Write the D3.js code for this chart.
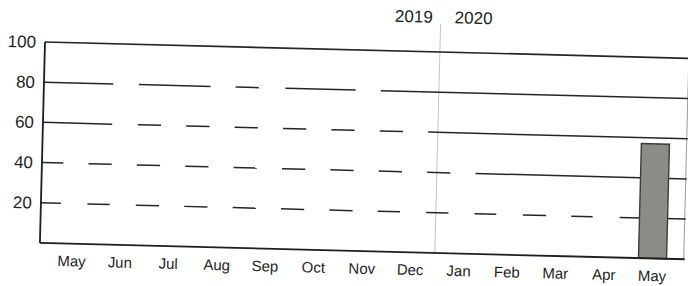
<!DOCTYPE html>
<html>
<head>
<meta charset="utf-8">
<script src="https://cdn.jsdelivr.net/npm/d3@7/dist/d3.min.js"></script>
<style>
  html, body { margin: 0; padding: 0; background: #fff; }
  svg { display: block; }
  text { font-family: "Liberation Sans", Arial, Helvetica, sans-serif; fill: #1e1e1e; }
</style>
</head>
<body>
<svg id="chart" width="688" height="286"></svg>
<script>
// ---- data ----
const months = ["May","Jun","Jul","Aug","Sep","Oct","Nov","Dec","Jan","Feb","Mar","Apr","May"];
const barValues = [null,null,null,null,null,null,null,null,null,null,null,null,57];
const yTicks = [20, 40, 60, 80, 100];
const yearLabels = ["2019", "2020"];
const yearBreak = 7.5; // between Dec and Jan (month index units)
// gridline segments, in month-index units along x
const grid100 = [[-0.7, 12.7]];
const grid80 = [[-0.7,0.77],[1.3,2.78],[3.3,3.78],[4.33,5.78],[6.3,12.7]];
const grid60 = [[-0.7,0.77],[1.3,1.78],[2.3,2.78],[3.3,3.78],[4.3,4.78],[5.3,5.78],[6.3,6.78],[7.3,12.7]];
const grid40 = [[-0.7,-0.22],[0.3,0.78],[1.3,1.78],[2.3,2.78],[3.3,3.78],[4.3,4.78],[5.3,5.78],[6.3,6.78],[7.3,7.78],[8.3,12.7]];
const grid20 = [[-0.7,-0.25],[0.3,0.76],[1.3,1.78],[2.3,2.78],[3.3,3.78],[4.3,4.78],[5.3,5.78],[6.3,6.76],[7.3,7.76],[8.3,8.75],[9.3,9.78],[10.3,10.74],[11.3,12.7]];
const gridLevels = [100, 80, 60, 40, 20];
const gridSegments = [grid100, grid80, grid60, grid40, grid20];

// ---- layout ----
const pLeft = 45, pRight = 688, pTop = 42, pBottom = 243;
const svg = d3.select("#chart");
const g = svg.append("g").attr("transform", `rotate(1.45, ${pLeft}, ${pTop})`);

const xBand = d3.scaleBand().domain(d3.range(months.length))
  .range([52.8, 682]).paddingInner(0.42).paddingOuter(0.21);
const xu = d3.scaleLinear().domain([-0.5, 12.5]).range([52.8, 682]);
const y = d3.scaleLinear().domain([0, 100]).range([pBottom, pTop]);
const clampX = v => Math.max(pLeft, Math.min(pRight + 2, xu(v)));

// year divider
g.append("line")
  .attr("x1", xu(yearBreak)).attr("x2", xu(yearBreak))
  .attr("y1", 14).attr("y2", pBottom)
  .attr("stroke", "#c4c4c4").attr("stroke-width", 1);

// right border (faint)
g.append("line")
  .attr("x1", pRight + 1).attr("x2", pRight + 1)
  .attr("y1", pTop).attr("y2", pBottom)
  .attr("stroke", "#9a9a9a").attr("stroke-width", 1);

// gridlines
gridLevels.forEach((lvl, i) => {
  g.append("g").selectAll("line").data(gridSegments[i]).join("line")
    .attr("x1", d => clampX(d[0])).attr("x2", d => clampX(d[1]))
    .attr("y1", y(lvl)).attr("y2", y(lvl))
    .attr("stroke", "#262626").attr("stroke-width", lvl === 100 ? 1.7 : 1.5);
});

// bar
g.append("g").selectAll("rect")
  .data(barValues.map((v, i) => ({v, i})).filter(d => d.v != null))
  .join("rect")
  .attr("x", d => xBand(d.i)).attr("width", xBand.bandwidth())
  .attr("y", d => y(d.v)).attr("height", d => y(0) - y(d.v))
  .attr("fill", "#8d8b86").attr("stroke", "#3c3c3c").attr("stroke-width", 1.4);

// axes lines
g.append("line").attr("x1", pLeft).attr("x2", pLeft).attr("y1", pTop).attr("y2", pBottom)
  .attr("stroke", "#1e1e1e").attr("stroke-width", 1.8);
g.append("line").attr("x1", pLeft).attr("x2", pRight + 2).attr("y1", pBottom).attr("y2", pBottom)
  .attr("stroke", "#1e1e1e").attr("stroke-width", 1.8);

// y axis labels
const yAxis = d3.axisLeft(y).tickValues(yTicks).tickSize(0).tickPadding(9);
const ya = g.append("g").attr("transform", `translate(${pLeft},0)`).call(yAxis);
ya.select(".domain").remove();
ya.attr("font-family", null).attr("font-size", null);
ya.selectAll("text").attr("font-size", 17).attr("fill", "#1e1e1e");

// x axis labels
const xAxis = d3.axisBottom(xBand).tickFormat(i => months[i]).tickSize(0).tickPadding(12);
const xa = g.append("g").attr("transform", `translate(0,${pBottom})`).call(xAxis);
xa.select(".domain").remove();
xa.attr("font-family", null).attr("font-size", null);
xa.selectAll("text").attr("font-size", 15).attr("fill", "#1e1e1e");

// year labels
g.append("text").attr("x", xu(yearBreak) - 8).attr("y", 13)
  .attr("text-anchor", "end").attr("font-size", 17).text(yearLabels[0]);
g.append("text").attr("x", xu(yearBreak) + 14).attr("y", 13)
  .attr("text-anchor", "start").attr("font-size", 17).text(yearLabels[1]);
</script>
</body>
</html>
